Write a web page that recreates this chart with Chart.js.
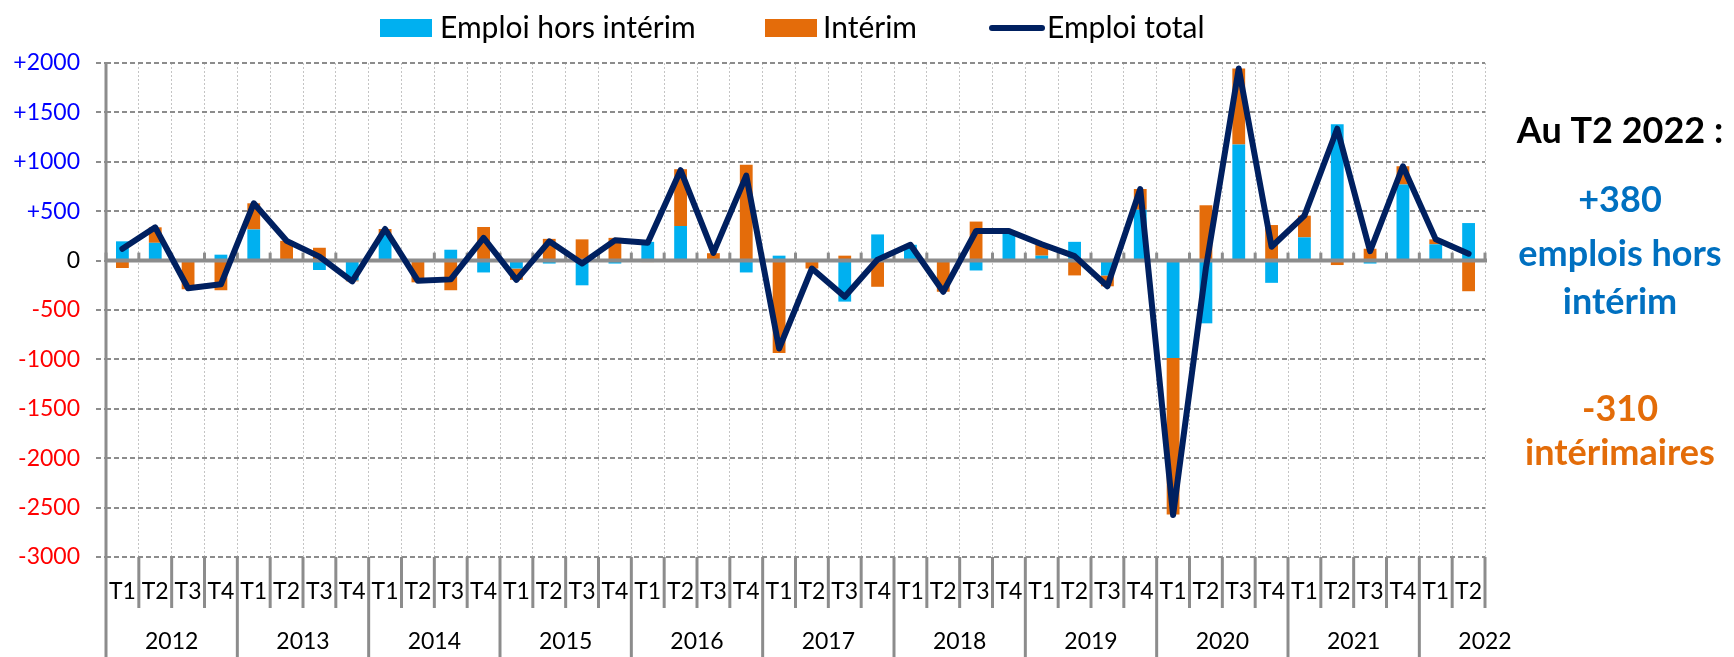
<!DOCTYPE html>
<html>
<head>
  <meta charset="UTF-8">
  <title>Emploi hors intérim et intérim</title>
  <script src="https://cdn.jsdelivr.net/npm/chart.js"></script>
  <style>
    body { margin: 0; background: #fff; }
    canvas { display: block; }
  </style>
</head>
<body>

<canvas id="emploiChart" width="1734" height="657"></canvas>

<script>
  // quarters 2012 T1 -> 2022 T2
  const years = ['2012', '2013', '2014', '2015', '2016', '2017', '2018', '2019', '2020', '2021', '2022'];
  const quarters = ['T1', 'T2', 'T3', 'T4'];
  const nbQuarters = 42;

  const horsInterim = [195, 180, 0, 60, 315, 0, -95, -200, 270, 0, 110,
    -120, -80, -30, -250, -30, 190, 350, 5, -120, 50, 0,
    -415, 265, 160, 0, -100, 300, 50, 190, -150, 515,
    -985, -635, 1175, -225, 235, 1380, -30, 770, 165, 380];
  const interim = [-75, 157, -290, -300, 265, 200, 130, -10, 50, -220, -300,
    340, -115, 220, 215, 230, -15, 575, 70, 970, -935, -80,
    50, -265, 0, -315, 395, 0, 110, -150, -110, 210,
    -1585, 560, 770, 360, 220, -45, 120, 185, 50, -310];
  const emploiTotal = [120, 337, -280, -240, 580, 200, 40, -210, 320, -205, -190,
    230, -195, 195, -30, 205, 180, 915, 78, 860, -890, -80,
    -365, 10, 160, -315, 300, 300, 165, 45, -260, 725,
    -2575, -75, 1945, 140, 455, 1335, 95, 955, 215, 70];

  const categories = [];
  for (let i = 0; i < nbQuarters; i++) {
    categories.push(years[Math.floor(i / 4)] + ' ' + quarters[i % 4]);
  }

  const BLUE = '#00B0F0';
  const ORANGE = '#E46C0A';
  const NAVY = '#002060';
  const GREY = '#8c8c8c';

  Chart.defaults.font.family = 'Lato, "Open Sans", sans-serif';

  // axis line at 0, category labels on two levels, legend and note
  const decor = {
    id: 'decor',
    afterDatasetDraw(chart, args) {
      if (args.index !== 0) return;
      const ctx = chart.ctx;
      const area = chart.chartArea;
      const xs = chart.scales.x;
      const y0 = chart.scales.y.getPixelForValue(0);
      const half = (xs.getPixelForValue(1) - xs.getPixelForValue(0)) / 2;
      ctx.save();
      ctx.strokeStyle = GREY;
      ctx.lineWidth = 4;
      ctx.beginPath();
      ctx.moveTo(area.left, y0);
      ctx.lineTo(area.right + 2, y0);
      ctx.stroke();
      ctx.lineWidth = 3;
      for (let i = 0; i <= nbQuarters; i++) {
        const bx = xs.getPixelForValue(Math.min(i, nbQuarters - 1)) + (i === nbQuarters ? half : -half);
        ctx.beginPath();
        ctx.moveTo(bx, y0 - 8);
        ctx.lineTo(bx, y0);
        ctx.stroke();
      }
      ctx.restore();
    },
    afterDraw(chart) {
      const ctx = chart.ctx;
      const area = chart.chartArea;
      const xs = chart.scales.x;
      const half = (xs.getPixelForValue(1) - xs.getPixelForValue(0)) / 2;
      ctx.save();

      // left axis
      ctx.strokeStyle = GREY;
      ctx.lineWidth = 3;
      ctx.beginPath();
      ctx.moveTo(area.left, area.top);
      ctx.lineTo(area.left, chart.height);
      ctx.stroke();

      // separators
      for (let i = 1; i <= nbQuarters; i++) {
        const bx = xs.getPixelForValue(Math.min(i, nbQuarters - 1)) + (i === nbQuarters ? half : -half);
        const bottom = (i % 4 === 0 && i < nbQuarters) ? chart.height : area.bottom + 51;
        ctx.beginPath();
        ctx.moveTo(bx, area.bottom);
        ctx.lineTo(bx, bottom);
        ctx.stroke();
      }

      // T labels and years
      ctx.fillStyle = '#000';
      ctx.font = '23px Lato';
      ctx.textAlign = 'center';
      ctx.textBaseline = 'middle';
      for (let i = 0; i < nbQuarters; i++) {
        ctx.fillText(quarters[i % 4], xs.getPixelForValue(i), area.bottom + 35);
      }
      years.forEach((yr, k) => {
        const cx = xs.getPixelForValue(4 * k) - half + 4 * half;
        ctx.fillText(yr, cx, area.bottom + 85);
      });

      // legend
      const ly = 28;
      ctx.font = '30px Lato';
      ctx.textAlign = 'left';
      ctx.fillStyle = BLUE;
      ctx.fillRect(380, ly - 9, 52, 18);
      ctx.fillStyle = ORANGE;
      ctx.fillRect(765, ly - 9, 52, 18);
      ctx.strokeStyle = NAVY;
      ctx.lineWidth = 6;
      ctx.lineCap = 'round';
      ctx.beginPath();
      ctx.moveTo(992, ly);
      ctx.lineTo(1042, ly);
      ctx.stroke();
      ctx.fillStyle = '#000';
      ctx.fillText('Emploi hors intérim', 440, ly);
      ctx.fillText('Intérim', 823, ly);
      ctx.fillText('Emploi total', 1047, ly);

      // note
      ctx.textAlign = 'center';
      ctx.textBaseline = 'alphabetic';
      ctx.font = 'bold 36px Lato';
      const nx = 1620;
      ctx.fillStyle = '#000';
      ctx.fillText('Au T2 2022 :', nx, 143);
      ctx.fillStyle = '#0070C0';
      ctx.fillText('+380', nx, 212);
      ctx.fillText('emplois hors', nx, 266);
      ctx.fillText('intérim', nx, 314);
      ctx.fillStyle = '#E36C09';
      ctx.fillText('-310', nx, 421);
      ctx.fillText('intérimaires', nx, 465);
      ctx.restore();
    }
  };

  const emploiChart = new Chart(document.getElementById('emploiChart'), {
    type: 'bar',
    data: {
      labels: categories,
      datasets: [
        { label: 'Emploi hors intérim', data: horsInterim, backgroundColor: BLUE, stack: 'emploi', order: 1,
          barPercentage: 0.39, categoryPercentage: 1 },
        { label: 'Intérim', data: interim, backgroundColor: ORANGE, stack: 'emploi', order: 1,
          barPercentage: 0.39, categoryPercentage: 1 },
        { type: 'line', label: 'Emploi total', data: emploiTotal, stack: 'total', order: 0,
          borderColor: NAVY, borderWidth: 6, pointRadius: 0, tension: 0,
          borderJoinStyle: 'round', borderCapStyle: 'round', fill: false }
      ]
    },
    options: {
      responsive: false,
      animation: false,
      layout: { padding: { top: 63, right: 249, bottom: 0, left: 0 } },
      plugins: {
        legend: { display: false },
        tooltip: { enabled: false }
      },
      scales: {
        x: {
          stacked: true,
          afterFit: (scale) => { scale.height = 100; },
          ticks: { display: false },
          border: { display: false, dash: [2, 2] },
          grid: { offset: true, color: '#c4c4c4', lineWidth: 1, drawTicks: false }
        },
        y: {
          stacked: true,
          min: -3000,
          max: 2000,
          afterFit: (scale) => { scale.width = 106; },
          ticks: {
            stepSize: 500,
            padding: 16,
            font: { size: 23 },
            color: (c) => c.tick.value > 0 ? '#0000FF' : (c.tick.value < 0 ? '#FF0000' : '#000000'),
            callback: (v) => v > 0 ? '+' + v : String(v)
          },
          border: { display: false, dash: [5, 3] },
          grid: { color: GREY, lineWidth: 2, tickLength: 10, tickColor: GREY, tickWidth: 2, tickBorderDash: [5, 3] }
        }
      }
    },
    plugins: [decor]
  });
</script>

</body>
</html>
